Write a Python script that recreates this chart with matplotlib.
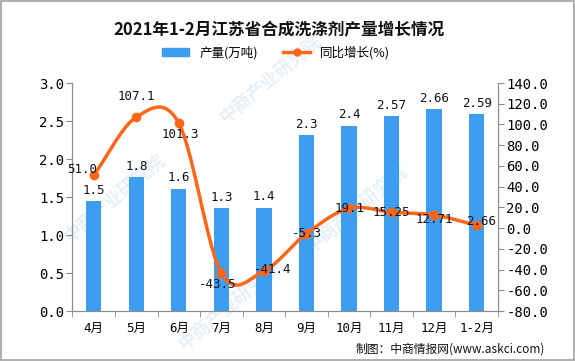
import numpy as np
import matplotlib
matplotlib.use("Agg")
import matplotlib.pyplot as plt
from matplotlib.lines import Line2D
from matplotlib.patches import Patch

plt.rcParams['font.family'] = ['DejaVu Sans Mono', 'Noto Sans CJK SC']

# data
months = ['4月', '5月', '6月', '7月', '8月', '9月', '10月', '11月', '12月', '1-2月']
output = [1.45, 1.76, 1.61, 1.35, 1.36, 2.32, 2.44, 2.57, 2.66, 2.59]
output_labels = ['1.5', '1.8', '1.6', '1.3', '1.4', '2.3', '2.4', '2.57', '2.66', '2.59']
growth = [51.0, 107.1, 101.3, -43.5, -41.4, -5.3, 19.1, 15.25, 12.71, 2.66]
growth_labels = ['51.0', '107.1', '101.3', '-43.5', '-41.4', '-5.3', '19.1', '15.25', '12.71', '2.66']

# label offsets for the growth line (points)
growth_offsets = [(-8, 4), (0, 15), (1, -8), (-3, -8), (6, 1), (0, 0), (0, 0), (0, 0), (0, -3), (3, 3)]

BAR_COLOR = '#3d9df0'
LINE_COLOR = '#ff661a'
AXIS_COLOR = '#8c8c8c'


def smooth(xs, ys, n=30):
    """Catmull-Rom style curve through the points (like Excel's smoothed line)."""
    xs = np.asarray(xs, float)
    ys = np.asarray(ys, float)
    m = np.zeros_like(ys)
    m[1:-1] = (ys[2:] - ys[:-2]) / 2
    m[0] = ys[1] - ys[0]
    m[-1] = ys[-1] - ys[-2]
    out_x, out_y = [], []
    for i in range(len(xs) - 1):
        t = np.linspace(0, 1, n)
        h00 = 2 * t**3 - 3 * t**2 + 1
        h10 = t**3 - 2 * t**2 + t
        h01 = -2 * t**3 + 3 * t**2
        h11 = t**3 - t**2
        out_x.append(xs[i] + t * (xs[i + 1] - xs[i]))
        out_y.append(h00 * ys[i] + h10 * m[i] + h01 * ys[i + 1] + h11 * m[i + 1])
    return np.concatenate(out_x), np.concatenate(out_y)


fig = plt.figure(figsize=(5.75, 3.61), dpi=100)
fig.patch.set_edgecolor('#b0b0b0')
fig.patch.set_linewidth(1.5)
ax = fig.add_axes([0.126, 0.1385, 0.74, 0.6315])
ax2 = ax.twinx()

x = np.arange(len(months))

# faint watermarks, kept behind the axes
for wx, wy in [(0.47, 0.78), (0.2, 0.45), (0.62, 0.42), (0.4, 0.15)]:
    fig.text(wx, wy, '中商产业研究院', rotation=40, fontsize=13, color='#e6eff8',
             family='Noto Sans CJK SC', weight='bold', ha='center', va='center', zorder=-10)

ax.bar(x, output, width=0.36, color=BAR_COLOR, zorder=2)
for xi, h, lab in zip(x, output, output_labels):
    ax.annotate(lab, (xi, h), xytext=(0, 3), textcoords='offset points',
                ha='center', va='bottom', fontsize=9, color='#111111')

ax.set_ylim(0, 3.0)
ax.set_yticks(np.arange(0, 3.01, 0.5))
ax.set_yticklabels([f'{v:.1f}' for v in np.arange(0, 3.01, 0.5)])
ax.set_xlim(-0.5, len(months) - 0.5)
ax.set_xticks(x)
ax.set_xticklabels(months)
ax.set_xticks(np.arange(-0.5, len(months)), minor=True)
ax.tick_params(axis='x', which='major', length=0, labelsize=9, pad=8)
ax.tick_params(axis='x', which='minor', length=4, color=AXIS_COLOR)
ax.tick_params(axis='y', length=4, color=AXIS_COLOR, labelsize=10, pad=2)

sx, sy = smooth(x, growth)
ax2.plot(sx, sy, color=LINE_COLOR, lw=2.5, zorder=3, solid_capstyle='round')
ax2.plot(x, growth, 'o', color=LINE_COLOR, ms=6, zorder=4)
for xi, g, lab, (dx, dy) in zip(x, growth, growth_labels, growth_offsets):
    ax2.annotate(lab, (xi, g), xytext=(dx, dy), textcoords='offset points',
                 ha='center', va='center', fontsize=9, color='#111111', zorder=5)

ax2.set_ylim(-80, 140)
ax2.set_yticks(np.arange(-80, 141, 20))
ax2.set_yticklabels([f'{v:.1f}' for v in np.arange(-80, 141, 20)])
ax2.tick_params(axis='y', length=4, color=AXIS_COLOR, labelsize=10, pad=2)

for a in (ax, ax2):
    a.spines['top'].set_visible(False)
    for s in ('left', 'right', 'bottom'):
        a.spines[s].set_color(AXIS_COLOR)
ax.set_zorder(ax2.get_zorder() - 1)
ax.patch.set_visible(False)

fig.text(0.485, 0.918, '2021年1-2月江苏省合成洗涤剂产量增长情况', ha='center', va='center',
         fontsize=12, weight='bold', family='Noto Sans CJK SC', color='#111111')

handles = [Patch(color=BAR_COLOR, label='产量(万吨)'),
           Line2D([0], [0], color=LINE_COLOR, lw=2.5, marker='o', ms=5, label='同比增长(%)')]
fig.legend(handles=handles, loc='center', bbox_to_anchor=(0.48, 0.855), ncol=2, frameon=False,
           handlelength=2.2, handleheight=0.6, columnspacing=2.0,
           prop={'family': ['Noto Sans CJK SC'], 'size': 9})

fig.text(0.947, 0.033, '制图：中商情报网(www.askci.com)', ha='right', va='center',
         fontsize=8.5, family=['Noto Sans CJK SC'], color='#111111')

fig.savefig('out.png', dpi=100)
